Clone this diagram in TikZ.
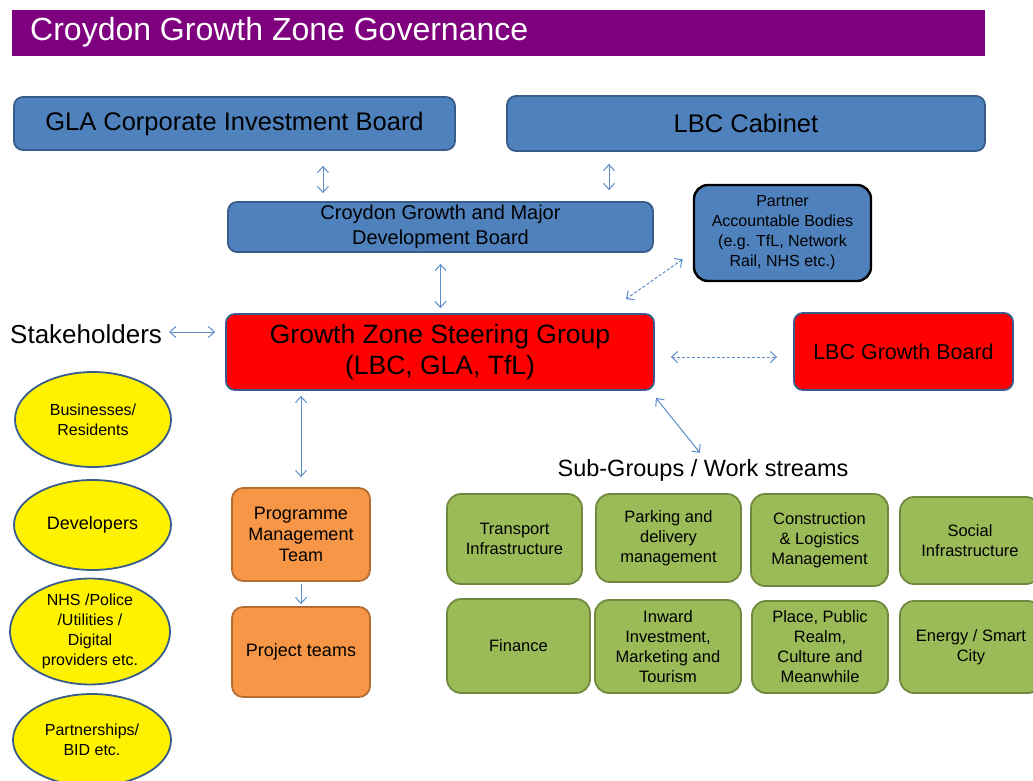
\documentclass[tikz,border=0pt]{standalone}
\usepackage{fontspec}
\setmainfont{Liberation Sans}
\usetikzlibrary{arrows.meta,shapes.geometric}
\definecolor{titlepurple}{HTML}{7F007F}
\definecolor{boxblue}{HTML}{4F81BD}
\definecolor{edgeblue}{HTML}{385D8A}
\definecolor{arrowblue}{HTML}{5B8BC9}
\definecolor{boxred}{HTML}{FF0000}
\definecolor{boxorange}{HTML}{F79646}
\definecolor{edgeorange}{HTML}{B66D31}
\definecolor{boxgreen}{HTML}{9BBB59}
\definecolor{edgegreen}{HTML}{71893F}
\newcommand\setfs[2]{\fontsize{#1}{#2}\selectfont}
\tikzset{
  box/.style={line width=1.8pt, rounded corners=9pt, inner sep=0pt, align=center, text=black},
  bluebox/.style={box, draw=edgeblue, fill=boxblue},
  redbox/.style={box, draw=edgeblue, fill=boxred},
  orangebox/.style={box, draw=edgeorange, fill=boxorange, rounded corners=11pt, font=\setfs{18}{21}},
  greenbox/.style={box, draw=edgegreen, fill=boxgreen, rounded corners=14pt, font=\setfs{16.5}{20}},
  stakeoval/.style={ellipse, draw=edgeblue, line width=1.8pt, fill=yellow, inner sep=0pt, align=center, font=\setfs{16}{20}},
  tip/.tip={Straight Barb[length=6pt,width=11pt]},
  arr/.style={draw=arrowblue, line width=1pt, tip-tip},
  onearr/.style={draw=arrowblue, line width=1pt, -tip},
  dasharr/.style={arr, dash pattern=on 3pt off 2pt},
}
\begin{document}
\begin{tikzpicture}[x=1pt,y=-1pt]
\useasboundingbox (0,0) rectangle (1033,781);
\clip (0,0) rectangle (1033,781);

% title bar
\fill[titlepurple] (12,10) rectangle (985,56);
\node[anchor=west, inner sep=0pt, text=white, font=\setfs{32}{36}] (title) at (30,32) {Croydon Growth Zone Governance};

% boards
\node[bluebox, minimum width=441pt, minimum height=53pt, font=\setfs{25.5}{30}] (gla) at (234.5,123.5) {GLA Corporate Investment Board};
\node[bluebox, minimum width=478pt, minimum height=55pt, font=\setfs{25.5}{30}] (cab) at (746,123.5) {LBC Cabinet};
\node[bluebox, minimum width=425pt, minimum height=50pt, font=\setfs{20}{25}] (cgb) at (440.5,227) {Croydon Growth and Major\\Development Board};
\node[box, draw=black, line width=2.4pt, fill=boxblue, rounded corners=14pt, minimum width=177pt, minimum height=96pt, font=\setfs{16}{20}] (pab) at (782.5,233) {Partner\\Accountable Bodies\\(e.g. TfL, Network\\Rail, NHS etc.)};

% steering level
\node[anchor=west, inner sep=0pt, font=\setfs{26}{30}] (stake) at (10,334) {Stakeholders};
\node[redbox, minimum width=428pt, minimum height=76pt, font=\setfs{26.5}{31}] (szg) at (440,352) {Growth Zone Steering Group\\(LBC, GLA, TfL)};
\node[redbox, minimum width=219pt, minimum height=77pt, font=\setfs{21.5}{26}] (lgb) at (903.5,351.5) {LBC Growth Board};

% stakeholder ovals
\node[stakeoval, minimum width=156pt, minimum height=95pt] (e1) at (93,419.5) {Businesses/\\Residents};
\node[stakeoval, minimum width=157pt, minimum height=90pt, font=\setfs{18}{22}] (e2) at (92.5,525) {Developers};
\node[stakeoval, minimum width=160pt, minimum height=93pt] (e3) at (90,631.5) {NHS /Police\\/Utilities /\\Digital\\providers etc.};
\node[stakeoval, minimum width=158pt, minimum height=92pt] (e4) at (92,740) {Partnerships/\\BID etc.};

% programme delivery
\node[orangebox, minimum width=138pt, minimum height=93pt] (pmt) at (301,534.5) {Programme\\Management\\Team};
\node[orangebox, minimum width=138pt, minimum height=90pt] (pt) at (301,652) {Project teams};

% sub-groups / work streams
\node[inner sep=0pt, font=\setfs{23.5}{28}] (sub) at (703,470) {Sub-Groups / Work streams};
\node[greenbox, minimum width=135pt, minimum height=90pt] (t1) at (514.5,539) {Transport\\Infrastructure};
\node[greenbox, minimum width=145pt, minimum height=88pt] (t2) at (668.5,538) {Parking and\\delivery\\management};
\node[greenbox, minimum width=137pt, minimum height=92pt] (t3) at (819.5,540) {Construction\\\& Logistics\\Management};
\node[greenbox, minimum width=140pt, minimum height=87pt] (t4) at (970,540.5) {Social\\Infrastructure};
\node[greenbox, minimum width=143pt, minimum height=94pt] (b1) at (518.5,646) {Finance};
\node[greenbox, minimum width=146pt, minimum height=93pt] (b2) at (668,646.5) {Inward\\Investment,\\Marketing and\\Tourism};
\node[greenbox, minimum width=136pt, minimum height=92pt] (b3) at (820,647) {Place, Public\\Realm,\\Culture and\\Meanwhile};
\node[greenbox, minimum width=142pt, minimum height=92pt] (b4) at (971,647) {Energy / Smart\\City};

% connectors
\draw[arr, shorten <=15pt, shorten >=8pt] ([xshift=88.5pt]gla.south) -- ([xshift=-117.5pt]cgb.north);
\draw[arr, shorten <=12pt, shorten >=11pt] ([xshift=-137pt]cab.south) -- ([xshift=168.5pt]cgb.north);
\draw[arr, shorten <=11pt, shorten >=5pt] (cgb.south) -- (cgb.south |- szg.north);
\draw[dasharr] ([shift={(-10,-23)}]pab.south west) -- ([shift={(-29,-14)}]szg.north east);
\draw[arr, shorten <=7pt, shorten >=10pt] ([yshift=2pt]stake.east) -- ([yshift=2pt]stake.east -| szg.west);
\draw[dasharr, shorten <=16pt, shorten >=16pt] ([yshift=-5pt]szg.east) -- ([yshift=-5pt]szg.east -| lgb.west);
\draw[arr] ([shift={(1,7)}]szg.south east) -- ([shift={(-3,-6)}]sub.north);
\draw[arr, shorten <=5pt, shorten >=10pt] (szg.south -| pmt.north) -- (pmt.north);
\draw[onearr, shorten <=2pt, shorten >=2pt] (pmt.south) -- (pt.north);
\end{tikzpicture}
\end{document}
